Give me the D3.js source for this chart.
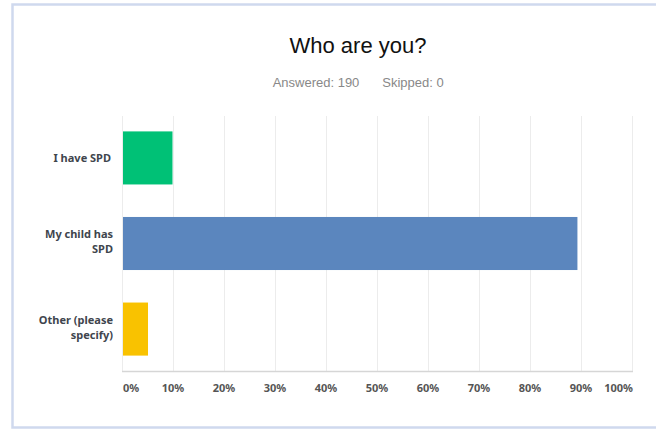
<!DOCTYPE html>
<html><head><meta charset="utf-8">
<script src="https://cdn.jsdelivr.net/npm/d3@7"></script>
<style>
html,body{margin:0;padding:0;background:#fff;}
svg{display:block;}
</style></head>
<body>
<svg id="c" width="656" height="429"></svg>
<script>
const categories = [["I have SPD"], ["My child has", "SPD"], ["Other (please", "specify)"]];
const categoryKeys = ["I have SPD", "My child has SPD", "Other (please specify)"];
const values = [9.9, 89.3, 5.1];
const colors = ["#00c176", "#5b86be", "#f9c200"];
const tickValues = [0,10,20,30,40,50,60,70,80,90,100];
const title = "Who are you?";
const subtitle = ["Answered: 190", "Skipped: 0"];

(function(){
const svg = d3.select("#c");
// frame
svg.append("rect").attr("x",12.5).attr("y",4.5).attr("width",660).attr("height",423)
  .attr("fill","#fff").attr("stroke","#cfd9ee").attr("stroke-width",2.5);

const pl=122, pr=632, pt=116, pb=371;
const x = d3.scaleLinear().domain([0,100]).range([pl,pr]);
const y = d3.scaleBand().domain(categoryKeys).range([pt,pb]).paddingInner(0.38).paddingOuter(0.18);

svg.append("text").attr("x",358).attr("y",53).attr("text-anchor","middle")
  .attr("font-family","Liberation Sans, Arial, sans-serif").attr("font-size",22).attr("fill","#111").text(title);
svg.append("text").attr("x",316).attr("y",87).attr("text-anchor","middle")
  .attr("font-family","Liberation Sans, Arial, sans-serif").attr("font-size",13).attr("fill","#888").text(subtitle[0]);
svg.append("text").attr("x",413).attr("y",87).attr("text-anchor","middle")
  .attr("font-family","Liberation Sans, Arial, sans-serif").attr("font-size",13).attr("fill","#888").text(subtitle[1]);

// grid
svg.append("g").selectAll("line").data(tickValues).join("line")
  .attr("x1",d=>x(d)+0.5).attr("x2",d=>x(d)+0.5).attr("y1",pt).attr("y2",pb)
  .attr("stroke","#ececec").attr("stroke-width",1);
// baseline
svg.append("line").attr("x1",pl).attr("x2",pr+1).attr("y1",pb+0.5).attr("y2",pb+0.5)
  .attr("stroke","#d6d6d6").attr("stroke-width",1.5);

// bars
svg.append("g").selectAll("rect").data(values).join("rect")
  .attr("x",x(0)+1).attr("y",(d,i)=>y(categoryKeys[i])).attr("height",y.bandwidth())
  .attr("width",d=>x(d)-x(0)-1).attr("fill",(d,i)=>colors[i]);

// category labels
const lab = svg.append("g").attr("font-family","Noto Sans, Open Sans, sans-serif").attr("font-size",11)
  .attr("font-weight","bold").attr("fill","#40454d").attr("text-anchor","end");
categories.forEach((lines,i)=>{
  const cy = y(categoryKeys[i]) + y.bandwidth()/2;
  const n = lines.length, lh=15;
  const ax = n === 1 ? 111 : 113;
  const t = lab.append("text").attr("x",ax);
  lines.forEach((s,j)=>{
    t.append("tspan").attr("x",ax).attr("y",cy + (j-(n-1)/2)*lh + (n===1 ? 4 : 2)).text(s);
  });
});

// x tick labels
svg.append("g").attr("font-family","Noto Sans, Open Sans, sans-serif").attr("font-size",11)
  .attr("font-weight","bold").attr("fill","#555")
  .selectAll("text").data(tickValues).join("text")
  .attr("x",d=> d===0 ? x(d)+1 : d===100 ? x(d)+1 : x(d))
  .attr("y",392)
  .attr("text-anchor",d=> d===0 ? "start" : d===100 ? "end" : "middle")
  .text(d=>d+"%");
})();
</script>
</body></html>
